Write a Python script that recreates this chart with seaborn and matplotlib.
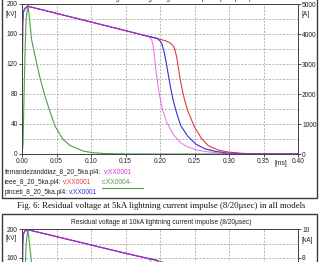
import numpy as np
import matplotlib
matplotlib.use('Agg')
import matplotlib.pyplot as plt
import seaborn as sns
from matplotlib.patches import Rectangle
from matplotlib.lines import Line2D
from matplotlib.ticker import MultipleLocator, FixedLocator, FormatStrFormatter

# --- data (time in ms, voltage in kV, current in A / kA) ---

# 5 kA case: common rise and linear decay shared by the three models
t_rise = [0.0, 0.0005, 0.001, 0.002, 0.004, 0.0085]
v_rise_5ka = [0, 110, 175, 189, 194, 197]
t_slope = [0.05, 0.10, 0.15, 0.18]
v_slope_5ka = [187.5, 176, 164.5, 157.5]

t_fern_5ka = [0.185, 0.188, 0.190, 0.192, 0.194, 0.197, 0.200, 0.204, 0.210, 0.219,
              0.230, 0.240, 0.255, 0.270, 0.290, 0.320, 0.400]
v_fern_5ka = [155.5, 152, 145, 130, 112, 92, 75, 58, 42, 26,
              15, 9.5, 5, 2.8, 1, 0.2, 0]

t_ieee_5ka = [0.200, 0.208, 0.214, 0.218, 0.221, 0.224, 0.227, 0.230, 0.234, 0.240,
              0.250, 0.260, 0.270, 0.285, 0.300, 0.320, 0.350, 0.400]
v_ieee_5ka = [153, 151, 148.5, 145.5, 141, 130, 113, 96, 78, 58,
              36, 21, 11, 5, 2.5, 0.8, 0.1, 0]

t_pinc_5ka = [0.195, 0.200, 0.203, 0.206, 0.209, 0.212, 0.215, 0.219, 0.224, 0.230,
              0.240, 0.252, 0.265, 0.280, 0.300, 0.330, 0.400]
v_pinc_5ka = [154.5, 151, 146, 136, 122, 106, 90, 72, 55, 38,
              24, 13, 7, 3.5, 1, 0.2, 0]

t_cur_5ka = [0.0, 0.0015, 0.003, 0.0045, 0.006, 0.0085, 0.014, 0.020, 0.026, 0.033,
             0.040, 0.048, 0.060, 0.070, 0.079, 0.090, 0.103, 0.120, 0.150, 0.200, 0.400]
i_cur_5ka = [0, 300, 2000, 3500, 4500, 5000, 3800, 3150, 2550, 1950,
             1450, 920, 470, 280, 190, 90, 43, 15, 3, 0, 0]

# 10 kA case (only the top part is visible)
v_rise_10ka = [0, 120, 180, 193, 197, 199]
v_slope_10ka = [189.5, 178, 166.5, 160]
t_fern_10ka = [0.185, 0.190, 0.195, 0.200, 0.210, 0.230, 0.260, 0.300, 0.400]
v_fern_10ka = [158, 150, 115, 80, 45, 16, 3, 0.5, 0]
t_ieee_10ka = [0.200, 0.215, 0.225, 0.235, 0.250, 0.270, 0.300, 0.400]
v_ieee_10ka = [155.5, 151, 128, 76, 37, 11, 2.5, 0]
t_pinc_10ka = [0.195, 0.205, 0.212, 0.220, 0.235, 0.260, 0.300, 0.400]
v_pinc_10ka = [157, 140, 106, 70, 30, 7, 1, 0]
i_cur_10ka = [0, 0.6, 4.0, 7.0, 9.0, 10.0, 7.6, 6.3, 5.1, 3.9,
              2.9, 1.84, 0.94, 0.56, 0.38, 0.18, 0.086, 0.03, 0.006, 0, 0]

models = ['fernandezanddiaz', 'ieee', 'pinceti']
col_fern = '#e030e0'
col_ieee = '#e03c3c'
col_pinc = '#3232d8'
col_cur = '#4aa04a'

sns.set_theme(style='white')
plt.rcParams['font.family'] = ['Liberation Sans', 'DejaVu Sans']

W, H = 322, 262
fig = plt.figure(figsize=(W / 100, H / 100), dpi=100)
fig.patch.set_facecolor('white')


def px_axes(left, top, right, bottom):
    return fig.add_axes([left / W, 1 - bottom / H, (right - left) / W, (bottom - top) / H])


def fx(x):
    return x / W


def fy(y):
    return 1 - y / H


def draw_panel(ax, v_rise, v_slope, tails, i_cur, i_max, v_ticks, i_ticks, show_x):
    ax2 = ax.twinx()
    ax.set_zorder(ax2.get_zorder() + 1)
    ax.patch.set_visible(False)

    sns.lineplot(x=t_cur_5ka, y=i_cur, ax=ax2, color=col_cur, lw=0.8)

    for (t_tail, v_tail), col, alpha in zip(tails, [col_ieee, col_pinc, col_fern], [1, 1, 0.62]):
        t_all = np.concatenate([t_rise, t_slope, t_tail])
        v_all = np.concatenate([v_rise, v_slope, v_tail])
        sns.lineplot(x=t_all, y=v_all, ax=ax, color=col, lw=0.8, alpha=alpha)

    ax.set_xlim(0, 0.4)
    ax.set_ylim(0, 200)
    ax2.set_ylim(0, i_max)
    ax.xaxis.set_major_locator(MultipleLocator(0.05))
    ax.xaxis.set_major_formatter(FormatStrFormatter('%.2f'))
    ax.yaxis.set_major_locator(FixedLocator(v_ticks))
    ax.yaxis.set_minor_locator(MultipleLocator(20))
    ax2.yaxis.set_major_locator(FixedLocator(i_ticks))
    ax.grid(which='both', color='#9a9a9a', linestyle=(0, (3, 2)), linewidth=0.5)
    ax2.grid(False)
    for a in (ax, ax2):
        a.tick_params(which='major', direction='out', length=2, width=0.6,
                      pad=1, labelsize=4.8, colors='#333333', labelcolor='#222222')
        a.tick_params(which='minor', length=0)
        a.set_xlabel('')
        a.set_ylabel('')
        for s in a.spines.values():
            s.set_color('#444444')
            s.set_linewidth(0.7)
    ax.tick_params(axis='x', bottom=show_x, labelbottom=show_x)
    ax.tick_params(axis='y', left=True)
    ax2.tick_params(axis='y', right=True)
    return ax2


# top panel (5 kA)
ax_top = px_axes(22, 4, 298, 154)
draw_panel(ax_top, v_rise_5ka, v_slope_5ka,
           [(t_ieee_5ka, v_ieee_5ka), (t_pinc_5ka, v_pinc_5ka), (t_fern_5ka, v_fern_5ka)],
           i_cur_5ka, 5000, [0, 40, 80, 120, 160, 200], [0, 1000, 2000, 3000, 4000, 5000], True)

# bottom panel (10 kA), cut by the image edge
ax_bot = px_axes(22, 229, 298, 374)
draw_panel(ax_bot, v_rise_10ka, v_slope_10ka,
           [(t_ieee_10ka, v_ieee_10ka), (t_pinc_10ka, v_pinc_10ka), (t_fern_10ka, v_fern_10ka)],
           i_cur_10ka, 10, [160, 200], [8, 10], False)

# frames around the two panels
fig.add_artist(Rectangle((fx(1.5), fy(198)), fx(315.5), 0.9, transform=fig.transFigure,
                         fill=False, ec='#3a3a3a', lw=1.0))
fig.add_artist(Rectangle((fx(1.5), -0.5), fx(315.5), 0.5 + (1 - 214 / H), transform=fig.transFigure,
                         fill=False, ec='#3a3a3a', lw=1.0))

small = dict(fontsize=4.8, color='#222222')
fig.text(fx(162), fy(-1), 'Residual voltage at 5kA lightning current impulse (8/20\u03bcsec)',
         ha='center', va='center', **small)
fig.text(fx(6), fy(14), '[kV]', ha='left', va='center', **small)
fig.text(fx(302), fy(14), '[A]', ha='left', va='center', **small)
fig.text(fx(281), fy(163.5), '[ms]', ha='center', va='center', **small)

fig.text(fx(161.5), fy(222), 'Residual voltage at 10kA lightning current impulse (8/20\u03bcsec)',
         ha='center', va='center', **small)
fig.text(fx(6), fy(239), '[kV]', ha='left', va='center', **small)
fig.text(fx(302), fy(240), '[kA]', ha='left', va='center', **small)

# legend lines
leg = dict(fontsize=4.7, ha='left', va='center')
fig.text(fx(5), fy(173), f'{models[0]}_8_20_5ka.pl4:', color='#222222', **leg)
fig.text(fx(104), fy(173), 'v:XX0001', color=col_fern, **leg)
fig.text(fx(5), fy(183), f'{models[1]}_8_20_5ka.pl4:', color='#222222', **leg)
fig.text(fx(63), fy(183), 'v:XX0001', color=col_ieee, **leg)
fig.text(fx(102), fy(183), 'c:XX0004-', color=col_cur, **leg)
fig.add_artist(Line2D([fx(102), fx(143)], [fy(188), fy(188)], transform=fig.transFigure,
                      color=col_cur, lw=0.8))
fig.text(fx(5), fy(193), f'{models[2]}_8_20_5ka.pl4:', color='#222222', **leg)
fig.text(fx(69), fy(193), 'v:XX0001', color=col_pinc, **leg)

# caption
fig.text(fx(161), fy(206.5),
         'Fig. 6: Residual voltage at 5kA lightning current impulse (8/20\u03bcsec) in all models',
         ha='center', va='center', fontsize=6.3, family=['Liberation Serif', 'DejaVu Serif'],
         color='#111111')

fig.savefig('out.png', dpi=100)
